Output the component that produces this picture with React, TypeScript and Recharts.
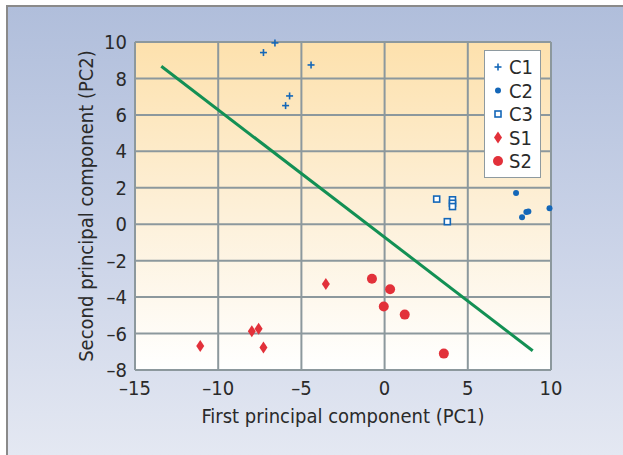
import React from "react";
import {
  ScatterChart,
  Scatter,
  XAxis,
  YAxis,
  CartesianGrid,
  ReferenceLine,
} from "recharts";

const c1 = [
  { x: -7.28, y: 9.42 },
  { x: -6.59, y: 9.95 },
  { x: -4.42, y: 8.74 },
  { x: -5.71, y: 7.04 },
  { x: -5.95, y: 6.51 },
];
const c2 = [
  { x: 7.9, y: 1.71 },
  { x: 8.26, y: 0.38 },
  { x: 8.52, y: 0.67 },
  { x: 8.64, y: 0.7 },
  { x: 9.91, y: 0.87 },
];
const c3 = [
  { x: 3.13, y: 1.38 },
  { x: 4.08, y: 1.34 },
  { x: 4.08, y: 1.15 },
  { x: 4.08, y: 0.97 },
  { x: 3.77, y: 0.14 },
];
const s1 = [
  { x: -11.08, y: -6.68 },
  { x: -7.98, y: -5.88 },
  { x: -7.57, y: -5.73 },
  { x: -7.28, y: -6.77 },
  { x: -3.53, y: -3.28 },
];
const s2 = [
  { x: -0.76, y: -2.99 },
  { x: 0.33, y: -3.57 },
  { x: -0.05, y: -4.52 },
  { x: 1.21, y: -4.96 },
  { x: 3.56, y: -7.1 },
];
const divider = [
  { x: -13.42, y: 8.67 },
  { x: 8.9, y: -6.94 },
];

const xTicks = [-15, -10, -5, 0, 5, 10];
const yTicks = [-8, -6, -4, -2, 0, 2, 4, 6, 8, 10];

const BLUE = "#1467b8";
const RED = "#e2313a";
const GREEN = "#139054";
const GRID = "#8c989d";
const TEXT = "#2a2a2a";
const FONT = "'Liberation Sans Narrow', 'DejaVu Sans Condensed', Arial, sans-serif";

const fmt = (v: number) => String(v).replace("-", "\u2013");

const Plus = ({ cx, cy }: any) => (
  <g stroke={BLUE} strokeWidth={1.6}>
    <line x1={cx - 3.5} y1={cy} x2={cx + 3.5} y2={cy} />
    <line x1={cx} y1={cy - 3.5} x2={cx} y2={cy + 3.5} />
  </g>
);
const Dot = ({ cx, cy }: any) => <circle cx={cx} cy={cy} r={3} fill={BLUE} />;
const Square = ({ cx, cy }: any) => (
  <rect x={cx - 3} y={cy - 3} width={6} height={6} fill="#fff" stroke={BLUE} strokeWidth={1.6} />
);
const Diamond = ({ cx, cy }: any) => (
  <path d={`M${cx},${cy - 6} L${cx + 4},${cy} L${cx},${cy + 6} L${cx - 4},${cy} Z`} fill={RED} />
);
const RedDot = ({ cx, cy }: any) => <circle cx={cx} cy={cy} r={5} fill={RED} />;

const legendItems = [
  { name: "C1", Icon: Plus },
  { name: "C2", Icon: Dot },
  { name: "C3", Icon: Square },
  { name: "S1", Icon: Diamond },
  { name: "S2", Icon: RedDot },
];

const LegendBox = () => (
  <div
    style={{
      position: "absolute",
      left: 484,
      top: 50,
      width: 57,
      height: 128,
      background: "#fff",
      border: "1.5px solid #8e9aa0",
      boxSizing: "border-box",
    }}
  >
    <svg width={55} height={126} style={{ display: "block" }}>
      {legendItems.map((it, i) => {
        const cy = 16 + i * 23.5;
        return (
          <g key={it.name}>
            <it.Icon cx={13} cy={cy} />
            <text x={24} y={cy + 7} fontSize={20} fill={TEXT} fontFamily={FONT}>
              {it.name}
            </text>
          </g>
        );
      })}
    </svg>
  </div>
);

export default function App() {
  return (
    <div
      style={{
        position: "fixed",
        left: 0,
        top: 0,
        width: 623,
        height: 455,
        background: "#fff",
      }}
    >
      <div
        style={{
          position: "absolute",
          left: 6,
          top: 5,
          width: 617,
          height: 450,
          borderLeft: "2px solid #8a8a8a",
          borderTop: "2px solid #8a8a8a",
          background: "linear-gradient(to bottom, #b0bedb 0%, #c9d2e7 50%, #e4e8f2 100%)",
          boxSizing: "border-box",
        }}
      />
      <div style={{ position: "absolute", left: 0, top: 0 }}>
        <ScatterChart
          width={623}
          height={455}
          margin={{ top: 42, right: 72, bottom: 25, left: 60 }}
        >
          <defs>
            <linearGradient id="plotBg" x1="0" y1="0" x2="0" y2="1">
              <stop offset="0%" stopColor="#fde1ad" />
              <stop offset="55%" stopColor="#fdf1db" />
              <stop offset="100%" stopColor="#ffffff" />
            </linearGradient>
          </defs>
          <CartesianGrid
            stroke={GRID}
            strokeWidth={2}
            fill="url(#plotBg)"
            fillOpacity={1}
          />
          <XAxis
            type="number"
            dataKey="x"
            domain={[-15, 10]}
            ticks={xTicks}
            tickFormatter={fmt}
            height={60}
            tickLine={false}
            tickSize={9}
            axisLine={{ stroke: GRID, strokeWidth: 2 }}
            tick={{ fill: TEXT, fontSize: 20, fontFamily: FONT }}
            label={{
              value: "First principal component (PC1)",
              position: "insideBottom",
              offset: 7,
              fill: TEXT,
              fontSize: 20,
              fontFamily: FONT,
            }}
          />
          <YAxis
            type="number"
            dataKey="y"
            domain={[-8, 10]}
            ticks={yTicks}
            tickFormatter={fmt}
            width={75}
            tickLine={false}
            tickSize={6}
            axisLine={{ stroke: GRID, strokeWidth: 2 }}
            tick={{ fill: TEXT, fontSize: 20, fontFamily: FONT }}
            label={{
              value: "Second principal component (PC2)",
              angle: -90,
              position: "insideLeft",
              offset: 26,
              style: { textAnchor: "middle" },
              fill: TEXT,
              fontSize: 20,
              fontFamily: FONT,
            }}
          />
          <ReferenceLine
            segment={divider}
            stroke={GREEN}
            strokeWidth={3}
            ifOverflow="visible"
          />
          <Scatter name="C1" data={c1} shape={Plus} isAnimationActive={false} />
          <Scatter name="C2" data={c2} shape={Dot} isAnimationActive={false} />
          <Scatter name="C3" data={c3} shape={Square} isAnimationActive={false} />
          <Scatter name="S1" data={s1} shape={Diamond} isAnimationActive={false} />
          <Scatter name="S2" data={s2} shape={RedDot} isAnimationActive={false} />
        </ScatterChart>
      </div>
      <LegendBox />
    </div>
  );
}
